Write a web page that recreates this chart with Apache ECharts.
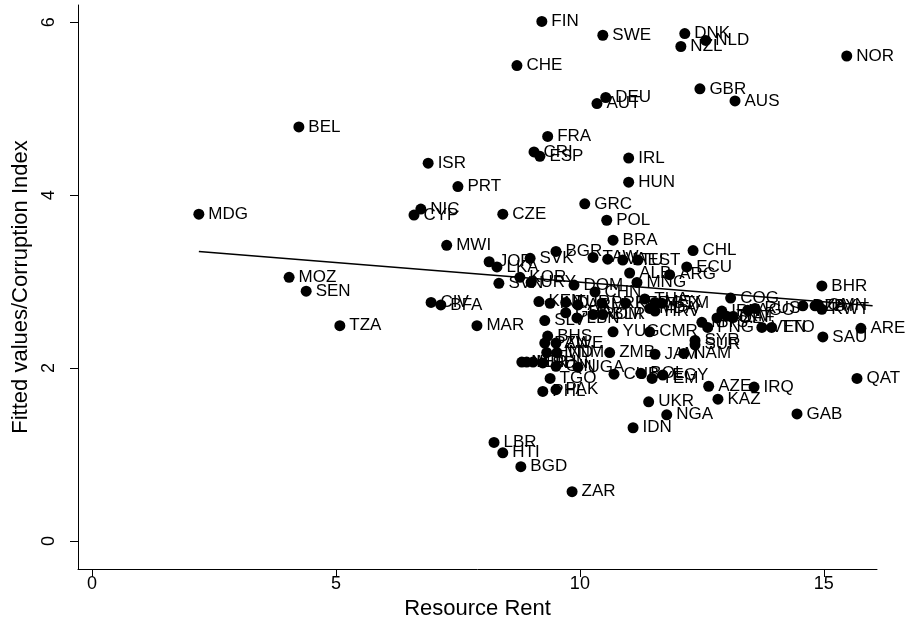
<!DOCTYPE html>
<html>
<head>
<meta charset="utf-8">
<script src="https://cdn.jsdelivr.net/npm/echarts@6/dist/echarts.min.js"></script>
<style>
  html, body { margin: 0; padding: 0; background: #fff; }
  #chart { width: 907px; height: 621px; }
</style>
</head>
<body>
<div id="chart"></div>
<script>
// country codes, resource rent (x) and corruption index (y)
const countries = [
  'FIN', 'SWE', 'DNK', 'NLD', 'NZL', 'NOR', 'CHE', 'DEU', 'AUT', 'GBR',
  'AUS', 'BEL', 'FRA', 'CRI', 'ESP', 'IRL', 'ISR', 'PRT', 'HUN', 'GRC',
  'NIC', 'CYP', 'MDG', 'CZE', 'POL', 'MWI', 'BRA', 'CHL', 'BGR', 'SVK',
  'JOR', 'LKA', 'TAW', 'LVA', 'LTU', 'EST', 'ALB', 'ECU', 'ARG', 'MNG',
  'KOR', 'SVN', 'URY', 'DOM', 'CHN', 'KEN', 'IND', 'TUR', 'ARM', 'PRK',
  'PER', 'THA', 'MEX', 'GTM', 'MDA', 'HRV', 'COG', 'IRN', 'AGO', 'RUS',
  'MYS', 'COL', 'TKM', 'ZAF', 'PNG', 'VEN', 'TTO', 'DZA', 'LBY', 'OMN',
  'KWT', 'BHR', 'SAU', 'ARE', 'QAT', 'GAB', 'IRQ', 'AZE', 'KAZ', 'UKR',
  'NGA', 'IDN', 'ZAR', 'BGD', 'HTI', 'LBR', 'SYR', 'SUR', 'JAM', 'NAM',
  'CMR', 'YUG', 'ZMB', 'CUB', 'BOL', 'YEM', 'EGY', 'PHL', 'PAK', 'TGO',
  'UGA', 'GIN', 'SDN', 'ETH', 'MLI', 'NER', 'HND', 'VNM', 'PAN', 'ZWE',
  'BHS', 'SLV', 'GHA', 'LBN', 'ROM', 'BLR', 'MOZ', 'SEN', 'TZA', 'CIV',
  'BFA', 'MAR',
];
const rent = [
  9.22, 10.47, 12.15, 12.58, 12.07, 15.47, 8.71, 10.53, 10.35, 12.46,
  13.18, 4.24, 9.34, 9.06, 9.18, 11.0, 6.89, 7.5, 11.0, 10.1,
  6.74, 6.6, 2.19, 8.42, 10.55, 7.27, 10.68, 12.32, 9.51, 8.98,
  8.14, 8.3, 10.27, 10.57, 10.88, 11.19, 11.02, 12.19, 11.84, 11.17,
  8.77, 8.34, 9.0, 9.88, 10.31, 9.16, 9.39, 9.71, 9.96, 10.45,
  10.94, 11.33, 11.54, 11.68, 11.43, 11.54, 13.09, 12.91, 13.44, 13.59,
  12.5, 12.81, 13.01, 13.14, 12.62, 13.73, 13.93, 14.57, 14.82, 14.88,
  14.96, 14.96, 14.98, 15.76, 15.68, 14.45, 13.57, 12.64, 12.83, 11.41,
  11.78, 11.09, 9.84, 8.79, 8.42, 8.24, 12.36, 12.36, 11.54, 12.13,
  11.43, 10.68, 10.61, 10.7, 11.25, 11.48, 11.7, 9.24, 9.51, 9.39,
  9.96, 9.51, 9.24, 9.04, 8.91, 8.81, 9.32, 9.53, 9.28, 9.51,
  9.34, 9.28, 9.71, 9.94, 10.27, 10.47, 4.04, 4.39, 5.08, 6.95,
  7.15, 7.89,
];
const corruption = [
  6.01, 5.85, 5.87, 5.79, 5.72, 5.61, 5.5, 5.13, 5.06, 5.23,
  5.09, 4.79, 4.68, 4.5, 4.45, 4.43, 4.37, 4.1, 4.15, 3.9,
  3.84, 3.77, 3.78, 3.78, 3.71, 3.42, 3.48, 3.36, 3.35, 3.27,
  3.23, 3.17, 3.28, 3.26, 3.25, 3.25, 3.1, 3.17, 3.08, 2.99,
  3.05, 2.98, 2.99, 2.96, 2.88, 2.77, 2.75, 2.76, 2.73, 2.75,
  2.75, 2.8, 2.76, 2.75, 2.69, 2.66, 2.81, 2.66, 2.67, 2.69,
  2.53, 2.58, 2.6, 2.59, 2.47, 2.47, 2.47, 2.72, 2.72, 2.73,
  2.68, 2.95, 2.36, 2.46, 1.88, 1.47, 1.78, 1.79, 1.64, 1.61,
  1.46, 1.31, 0.57, 0.86, 1.02, 1.14, 2.32, 2.27, 2.16, 2.17,
  2.42, 2.42, 2.18, 1.93, 1.94, 1.88, 1.92, 1.73, 1.75, 1.88,
  2.01, 2.02, 2.06, 2.07, 2.07, 2.07, 2.18, 2.18, 2.29, 2.29,
  2.37, 2.55, 2.64, 2.58, 2.62, 2.62, 3.05, 2.89, 2.49, 2.76,
  2.73, 2.49,
];
// fitted line end points
const fitRent = [2.19, 16.0];
const fitCorr = [3.35, 2.72];
const xTicks = [0, 5, 10, 15];
const yTicks = [0, 2, 4, 6];

const FONT = '"Liberation Sans", Arial, sans-serif';

const chart = echarts.init(document.getElementById('chart'));

const points = countries.map((c, i) => ({ value: [rent[i], corruption[i]], name: c }));
const fitted = fitRent.map((x, i) => [x, fitCorr[i]]);

chart.setOption({
  animation: false,
  backgroundColor: '#fff',
  textStyle: { fontFamily: FONT },
  grid: { left: 78, right: 30, top: 5, bottom: 52, outerBoundsMode: 'none' },
  xAxis: {
    type: 'value',
    min: -0.287,
    max: 16.09,
    name: 'Resource Rent',
    nameLocation: 'middle',
    nameGap: 28,
    nameTextStyle: { color: '#000', fontSize: 22, fontFamily: FONT },
    splitLine: { show: false },
    axisLine: { show: true, onZero: false, lineStyle: { color: '#000', width: 1 } },
    axisTick: { show: true, length: 8, customValues: xTicks, lineStyle: { color: '#000' } },
    axisLabel: { customValues: xTicks, color: '#000', fontSize: 18, margin: 6, fontFamily: FONT },
  },
  yAxis: {
    type: 'value',
    min: -0.324,
    max: 6.2,
    name: 'Fitted values/Corruption Index',
    nameLocation: 'middle',
    nameGap: 35,
    nameTextStyle: { color: '#000', fontSize: 22, fontFamily: FONT },
    splitLine: { show: false },
    axisLine: { show: true, onZero: false, lineStyle: { color: '#000', width: 1 } },
    axisTick: { show: true, length: 8, customValues: yTicks, lineStyle: { color: '#000' } },
    axisLabel: { customValues: yTicks, rotate: 90, color: '#000', fontSize: 18, margin: 20, fontFamily: FONT },
  },
  series: [
    {
      type: 'scatter',
      data: points,
      symbol: 'circle',
      symbolSize: 11,
      itemStyle: { color: '#000', opacity: 1 },
      label: {
        show: true,
        position: 'right',
        distance: 4,
        formatter: p => p.name,
        color: '#000',
        fontSize: 17,
        fontFamily: FONT,
      },
      z: 3,
    },
    {
      type: 'line',
      data: fitted,
      symbol: 'none',
      lineStyle: { color: '#000', width: 1.5 },
      z: 4,
    },
  ],
});
</script>
</body>
</html>
